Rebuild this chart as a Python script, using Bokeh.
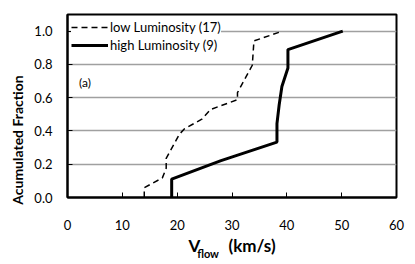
from bokeh.plotting import figure
from bokeh.models import Range1d, FixedTicker, PrintfTickFormatter, Label, LinearAxis
from bokeh.embed import file_html
from bokeh.resources import INLINE

# Data
low_v = [14.0, 14.0, 17.3, 18.0, 18.0, 20.4, 21.3, 24.5, 26.1, 31.0, 31.0, 33.7, 34.0, 39.2]
low_f = [0.0, 0.059, 0.118, 0.176, 0.235, 0.38, 0.412, 0.471, 0.529, 0.588, 0.63, 0.795, 0.941, 1.0]
high_v = [19.0, 19.0, 28.0, 38.2, 38.2, 38.6, 39.1, 40.2, 40.2, 50.2]
high_f = [0.0, 0.111, 0.222, 0.333, 0.444, 0.556, 0.667, 0.778, 0.889, 1.0]
x_ticks = [0, 10, 20, 30, 40, 50, 60]
y_ticks = [0.0, 0.2, 0.4, 0.6, 0.8, 1.0]
low_label = "low Luminosity (17)"
high_label = "high Luminosity (9)"

FONT = "Lato"
NB = "\u00a0"

p = figure(width=412, height=262, output_backend="svg", toolbar_location=None,
           x_range=Range1d(0, 60), y_range=Range1d(0, 1.1),
           min_border_left=67, min_border_right=16, min_border_top=14, min_border_bottom=65)
p.background_fill_color = "white"
p.border_fill_color = "white"
p.outline_line_color = "black"
p.outline_line_width = 2

p.xgrid.grid_line_color = None
p.ygrid.grid_line_color = "#a0a0a0"
p.ygrid.grid_line_width = 1.5
p.ygrid.ticker = FixedTicker(ticks=[0.2, 0.4, 0.6, 0.8, 1.0])

for ax in (p.xaxis, p.yaxis):
    ax.axis_line_color = "black"
    ax.axis_line_width = 2
    ax.major_tick_in = 5
    ax.major_tick_out = 0
    ax.major_tick_line_color = "black"
    ax.major_tick_line_width = 1
    ax.minor_tick_line_color = None
    ax.major_label_text_font = FONT
    ax.major_label_text_font_size = "13px"
    ax.major_label_text_color = "black"

xa = p.xaxis[0]
xa.ticker = FixedTicker(ticks=x_ticks)
xa.major_label_standoff = 22
xa.axis_label = "V" + NB * 7 + "(km/s)"
xa.axis_label_text_font = FONT
xa.axis_label_text_font_style = "bold"
xa.axis_label_text_font_size = "17px"
xa.axis_label_text_color = "black"
xa.axis_label_standoff = 2

# subscript part of the x-axis title
sub = LinearAxis(ticker=FixedTicker(ticks=[]), axis_line_color=None,
                 major_tick_line_color=None, minor_tick_line_color=None,
                 major_tick_in=0, major_tick_out=0, major_label_standoff=0,
                 axis_label="flow" + NB * 18, axis_label_text_font=FONT,
                 axis_label_text_font_style="bold", axis_label_text_font_size="11px",
                 axis_label_text_color="black", axis_label_standoff=-12)
p.add_layout(sub, "below")

ya = p.yaxis[0]
ya.ticker = FixedTicker(ticks=y_ticks)
ya.formatter = PrintfTickFormatter(format="%.1f")
ya.major_label_standoff = 15
ya.axis_label = "Acumulated Fraction" + NB * 20
ya.axis_label_text_font = FONT
ya.axis_label_text_font_style = "bold"
ya.axis_label_text_font_size = "14px"
ya.axis_label_text_color = "black"
ya.axis_label_standoff = 5

p.line(low_v, low_f, line_color="black", line_width=1.5, line_dash="6 4", legend_label=low_label)
p.line(high_v, high_f, line_color="black", line_width=3, legend_label=high_label)

lg = p.legend[0]
lg.location = "top_left"
lg.margin = 4
lg.padding = 4
lg.spacing = 0
lg.border_line_color = None
lg.background_fill_color = "white"
lg.background_fill_alpha = 1.0
lg.glyph_width = 37
lg.glyph_height = 18
lg.label_height = 18
lg.label_standoff = 2
lg.label_text_font = FONT
lg.label_text_font_size = "13px"
lg.label_text_color = "black"

p.add_layout(Label(x=2.1, y=0.69, text="(a)", text_font=FONT, text_font_size="12px",
                   text_baseline="middle", text_color="black"))

open("out.html", "w").write(file_html(p, INLINE))
